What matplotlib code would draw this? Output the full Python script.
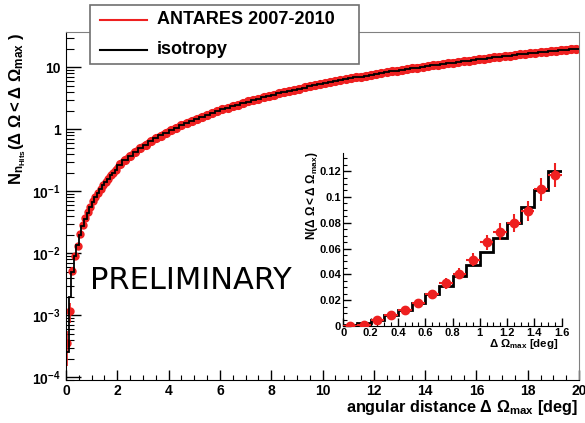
import matplotlib
matplotlib.use('Agg')
import matplotlib.pyplot as plt
from matplotlib.patches import Rectangle
from matplotlib.lines import Line2D
from matplotlib.ticker import FixedLocator, FixedFormatter, MultipleLocator, LogLocator, NullFormatter
import numpy as np

plt.rcParams['font.family'] = ['Liberation Sans', 'DejaVu Sans']
plt.rcParams['font.weight'] = 'bold'
plt.rcParams['mathtext.fontset'] = 'custom'
plt.rcParams['mathtext.rm'] = 'Liberation Sans:bold'
plt.rcParams['mathtext.it'] = 'Liberation Sans:bold'
plt.rcParams['mathtext.bf'] = 'Liberation Sans:bold'
plt.rcParams['mathtext.sf'] = 'Liberation Sans:bold'

RED = '#ee2020'

## main plot: cumulative counts, 0.1 deg bins up to 2 deg, 0.2 deg bins after
fine_iso = [0.00025, 0.0020, 0.0050, 0.0090, 0.0138, 0.0200, 0.0272, 0.0355, 0.0450, 0.0555,
            0.0672, 0.0800, 0.0938, 0.1088, 0.1248, 0.1420, 0.1602, 0.1795, 0.2000, 0.2215]
coarse_iso = [0.268, 0.318, 0.373, 0.432, 0.496, 0.564, 0.636, 0.712, 0.792, 0.877,
              0.966, 1.06, 1.16, 1.26, 1.36, 1.47, 1.59, 1.70, 1.83, 1.95,
              2.08, 2.22, 2.35, 2.50, 2.64, 2.79, 2.95, 3.10, 3.27, 3.43,
              3.60, 3.77, 3.95, 4.13, 4.32, 4.51, 4.70, 4.90, 5.10, 5.30,
              5.51, 5.72, 5.94, 6.15, 6.38, 6.60, 6.83, 7.07, 7.31, 7.55,
              7.79, 8.04, 8.29, 8.55, 8.81, 9.07, 9.33, 9.60, 9.88, 10.15,
              10.43, 10.72, 11.00, 11.29, 11.59, 11.89, 12.19, 12.49, 12.80, 13.11,
              13.42, 13.74, 14.06, 14.38, 14.71, 15.04, 15.37, 15.71, 16.05, 16.39,
              16.74, 17.09, 17.44, 17.80, 18.16, 18.52, 18.89, 19.25, 19.63, 20.00]

fine_data = [0.00035, 0.00115, 0.0052, 0.0090, 0.0132, 0.0205, 0.0285, 0.0370, 0.0460, 0.0560,
             0.0690, 0.0800, 0.0940, 0.1090, 0.1250, 0.1430, 0.1600, 0.1800, 0.2000, 0.2220]
fine_err = [0.0002, 0.0004, 0.0008, 0.0011, 0.0013, 0.0016, 0.0019, 0.0022, 0.0024, 0.0027,
            0.0030, 0.0032, 0.0035, 0.0037, 0.0040, 0.0042, 0.0045, 0.0047, 0.0050, 0.0052]
coarse_data = [0.27, 0.32, 0.37, 0.43, 0.50, 0.56, 0.64, 0.71, 0.79, 0.88,
               0.97, 1.06, 1.15, 1.26, 1.37, 1.47, 1.58, 1.70, 1.82, 1.95,
               2.08, 2.21, 2.35, 2.49, 2.64, 2.80, 2.95, 3.11, 3.27, 3.44,
               3.61, 3.78, 3.96, 4.14, 4.33, 4.52, 4.71, 4.91, 5.11, 5.31,
               5.52, 5.73, 5.95, 6.17, 6.39, 6.61, 6.84, 7.08, 7.32, 7.56,
               7.80, 8.05, 8.31, 8.56, 8.82, 9.08, 9.35, 9.62, 9.89, 10.17,
               10.45, 10.73, 11.02, 11.31, 11.60, 11.90, 12.20, 12.50, 12.81, 13.12,
               13.43, 13.75, 14.07, 14.39, 14.72, 15.05, 15.38, 15.72, 16.06, 16.40,
               16.75, 17.10, 17.45, 17.81, 18.17, 18.53, 18.90, 19.27, 19.64, 20.02]

## inset: first 16 bins of 0.1 deg, linear scale
inset_iso = [0.0005, 0.0020, 0.0050, 0.0085, 0.0123, 0.0175, 0.0244, 0.0310,
             0.0388, 0.0476, 0.0570, 0.0680, 0.0800, 0.0920, 0.1055, 0.1200]
inset_data = [0.0003, 0.0010, 0.0045, 0.0087, 0.0123, 0.0177, 0.0247, 0.0330,
              0.0406, 0.0514, 0.0648, 0.0730, 0.0797, 0.0890, 0.1060, 0.1170]
inset_err = [0.0005, 0.0010, 0.0015, 0.0020, 0.0025, 0.0030, 0.0035, 0.0040,
             0.0045, 0.0050, 0.0060, 0.0065, 0.0070, 0.0075, 0.0090, 0.0095]

legend_labels = ['ANTARES 2007-2010', 'isotropy']
ytick_vals = [1e-4, 1e-3, 1e-2, 1e-1, 1, 10]
ytick_labels = ['10$^{-4}$', '10$^{-3}$', '10$^{-2}$', '10$^{-1}$', '1', '10']
inset_xticks = [0, 0.2, 0.4, 0.6, 0.8, 1.0, 1.2, 1.4, 1.6]
inset_xlabels = ['0', '0.2', '0.4', '0.6', '0.8', '1', '1.2', '1.4', '1.6']
inset_yticks = [0, 0.02, 0.04, 0.06, 0.08, 0.10, 0.12]
inset_ylabels = ['0', '0.02', '0.04', '0.06', '0.08', '0.1', '0.12']

edges = np.round(np.concatenate([np.arange(0, 2.0001, 0.1), np.arange(2.2, 20.0001, 0.2)]), 2)
centers = (edges[:-1] + edges[1:]) / 2
iso_main = fine_iso + coarse_iso
data_main = fine_data + coarse_data
n_fine = len(fine_data)

inset_edges = np.round(np.arange(0, 1.6001, 0.1), 2)
inset_centers = (inset_edges[:-1] + inset_edges[1:]) / 2

fig = plt.figure(figsize=(5.85, 4.23), dpi=100)
ax = fig.add_axes([66/585, 1 - 380/423, 513/585, 348/423])

ax.errorbar(centers[:n_fine], fine_data, yerr=fine_err, xerr=0.05, fmt='o', ms=5,
            color=RED, mec=RED, elinewidth=1.2, capsize=0, zorder=2)
# dense markers merge into a band in the original
ax.plot(centers[n_fine - 4:], data_main[n_fine - 4:], '-', lw=4.6, color=RED,
        solid_capstyle='round', zorder=2)
ax.plot(centers[n_fine:], coarse_data, 'o', ms=5.6, color=RED, mec=RED, zorder=2)
ax.stairs(iso_main, edges, color='black', lw=1.3, baseline=None, zorder=3)

ax.set_xlim(0, 20)
ax.set_yscale('log')
ax.set_ylim(9e-5, 37)
ax.yaxis.set_major_locator(FixedLocator(ytick_vals))
ax.yaxis.set_major_formatter(FixedFormatter(ytick_labels))
ax.yaxis.set_minor_locator(LogLocator(base=10, subs=np.arange(2, 10)))
ax.yaxis.set_minor_formatter(NullFormatter())
ax.xaxis.set_major_locator(MultipleLocator(2))
ax.xaxis.set_minor_locator(MultipleLocator(0.5))
ax.tick_params(axis='both', which='both', direction='in', top=False, right=False, labelsize=10)
ax.tick_params(axis='y', which='major', length=11, width=1, pad=4)
ax.tick_params(axis='y', which='minor', length=5.5, width=0.8)
ax.tick_params(axis='x', which='major', length=7, width=1, pad=3)
ax.tick_params(axis='x', which='minor', length=3.5, width=0.8)
for s in ['top', 'right']:
    ax.spines[s].set_color('#808080')
for s in ['left', 'bottom']:
    ax.spines[s].set_color('black')

fig.text(17.5/585, 1 - 33/423, r'$N_{n_{Hits}}(\Delta\ \Omega < \Delta\ \Omega_{max}\ )$',
         rotation=90, ha='center', va='top', fontsize=12)
fig.text(578/585, 1 - 412/423, r'angular distance $\Delta\ \Omega_{max}$ [deg]',
         ha='right', va='baseline', fontsize=11.7)
fig.text(90/585, 1 - 289/423, 'PRELIMINARY', family='DejaVu Sans', fontweight='normal',
         fontsize=22, ha='left', va='baseline')

## legend box
fig.patches.append(Rectangle((90/585, 1 - 64/423), 269/585, 59/423, transform=fig.transFigure,
                             facecolor='white', edgecolor='#707070', lw=1.2, zorder=5))
for row, (lab, col) in enumerate(zip(legend_labels, [RED, 'black'])):
    yy = 1 - (20 + 30*row)/423
    fig.lines.append(Line2D([100/585, 147/585], [yy, yy], transform=fig.transFigure,
                            color=col, lw=1.5, zorder=6))
    fig.text(157/585, yy, lab, ha='left', va='center', fontsize=13, zorder=6)

## inset
axin = fig.add_axes([343.3/585, 1 - 326/423, 218.4/585, 173/423])
axin.stairs(inset_iso, inset_edges, color='black', lw=2, baseline=None, zorder=2)
axin.errorbar(inset_centers, inset_data, yerr=inset_err, xerr=0.05, fmt='o', ms=6,
              color=RED, mec=RED, elinewidth=1.5, capsize=0, zorder=3)
axin.set_xlim(0, 1.6)
axin.set_ylim(0, 0.134)
axin.xaxis.set_major_locator(FixedLocator(inset_xticks))
axin.xaxis.set_major_formatter(FixedFormatter(inset_xlabels))
axin.xaxis.set_minor_locator(MultipleLocator(0.05))
axin.yaxis.set_major_locator(FixedLocator(inset_yticks))
axin.yaxis.set_major_formatter(FixedFormatter(inset_ylabels))
axin.yaxis.set_minor_locator(MultipleLocator(0.005))
axin.tick_params(axis='both', which='both', direction='in', top=False, right=False, labelsize=8)
axin.tick_params(axis='y', which='major', length=6, width=1, pad=1.5)
axin.tick_params(axis='x', which='major', length=6, width=1, pad=1.5)
axin.tick_params(axis='both', which='minor', length=3, width=0.8)
axin.spines['top'].set_visible(False)
axin.spines['right'].set_visible(False)

fig.text(312/585, 1 - 152/423, r'$N(\Delta\ \Omega < \Delta\ \Omega_{max})$',
         rotation=90, ha='center', va='top', fontsize=8.5)
fig.text(558/585, 1 - 347/423, r'$\Delta\ \Omega_{max}$ [deg]', ha='right', va='baseline', fontsize=8.2)

fig.savefig('out.png', dpi=100)
